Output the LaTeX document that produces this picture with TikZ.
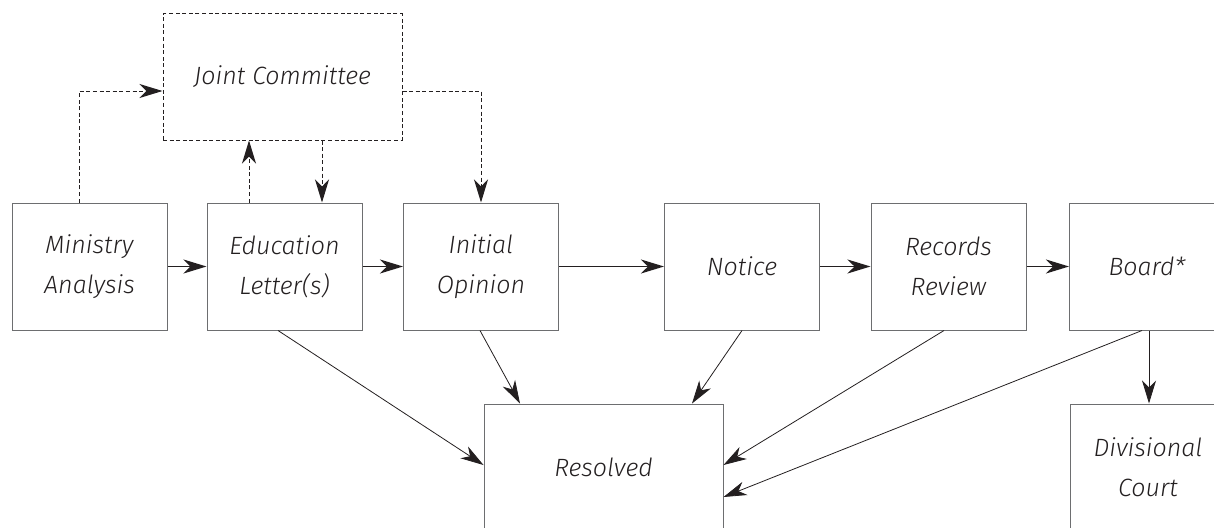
\documentclass[tikz,border=0pt]{standalone}
\usepackage{fontspec}
\newfontfamily\labelfont{Fira Sans Light Italic}
\usetikzlibrary{arrows.meta,positioning}
\definecolor{ink}{HTML}{231F20}
\definecolor{boxline}{HTML}{6D6E70}
\tikzset{
  x=1pt, y=-1pt,
  tip/.style={-{Stealth[length=23pt,width=14pt,inset=7pt]}},
  procbox/.style={draw=boxline, line width=1pt, minimum width=155pt, minimum height=127pt,
    inner sep=0pt, align=center, text=ink, font=\labelfont\fontsize{25}{40}\selectfont},
  bigbox/.style={procbox, minimum width=239pt, minimum height=126pt},
  jcbox/.style={bigbox, dash pattern=on 4pt off 2.6pt, draw=ink},
  flow/.style={draw=ink, line width=1.4pt, tip},
  diag/.style={draw=ink, line width=0.8pt, tip},
  dflow/.style={draw=ink, line width=1pt, dash pattern=on 4pt off 2.6pt, tip},
}
\begin{document}
\begin{tikzpicture}
\useasboundingbox (0,0) rectangle (1214,527);
\clip (0,0) rectangle (1214,527);
\node[jcbox]   (jc)  at (282.5,77)    {Joint Committee};
\node[procbox] (ma)  at (89.5,266.5)  {Ministry\\Analysis};
\node[procbox] (edu) at (284.5,266.5) {Education\\Letter(s)};
\node[procbox] (ini) at (481,266.5)   {Initial\\Opinion};
\node[procbox] (not) at (742,266.5)   {Notice};
\node[procbox] (rec) at (948.5,266.5) {Records\\Review};
\node[procbox] (brd) at (1147,266.5)  {Board*};
\node[bigbox]  (res) at (603.5,467)   {Resolved};
\node[procbox, minimum width=156pt, minimum height=126pt] (div) at (1148,467) {Divisional\\Court};
% main flow
\draw[flow] (ma) -- (edu);
\draw[flow] (edu) -- (ini);
\draw[flow] (ini) -- (not);
\draw[flow] (not) -- (rec);
\draw[flow] (rec) -- (brd);
% dashed links with joint committee
\draw[dflow] ([xshift=-10.5pt]ma.north) |- ([yshift=-14pt]jc.west);
\draw[dflow] ([xshift=-35.5pt]edu.north) -- ([xshift=-35.5pt]edu.north |- jc.south);
\draw[dflow] ([xshift=39.5pt]jc.south) -- ([xshift=39.5pt]jc.south |- edu.north);
\draw[dflow] ([yshift=-14pt]jc.east) -| (ini.north);
% to resolved
\draw[diag] ([xshift=-6.5pt]edu.south) -- ([yshift=2pt]res.west);
\draw[diag] ([xshift=-1pt]ini.south) -- ([xshift=-83.5pt]res.north);
\draw[diag] (not.south) -- ([xshift=88.5pt]res.north);
\draw[diag] ([xshift=-4.5pt]rec.south) -- ([yshift=2pt]res.east);
\draw[diag] ([xshift=-5pt]brd.south) -- ([yshift=-30pt]res.east);
\draw[diag] ([xshift=2pt]brd.south) -- ([xshift=2pt]brd.south |- div.north);
\end{tikzpicture}
\end{document}
